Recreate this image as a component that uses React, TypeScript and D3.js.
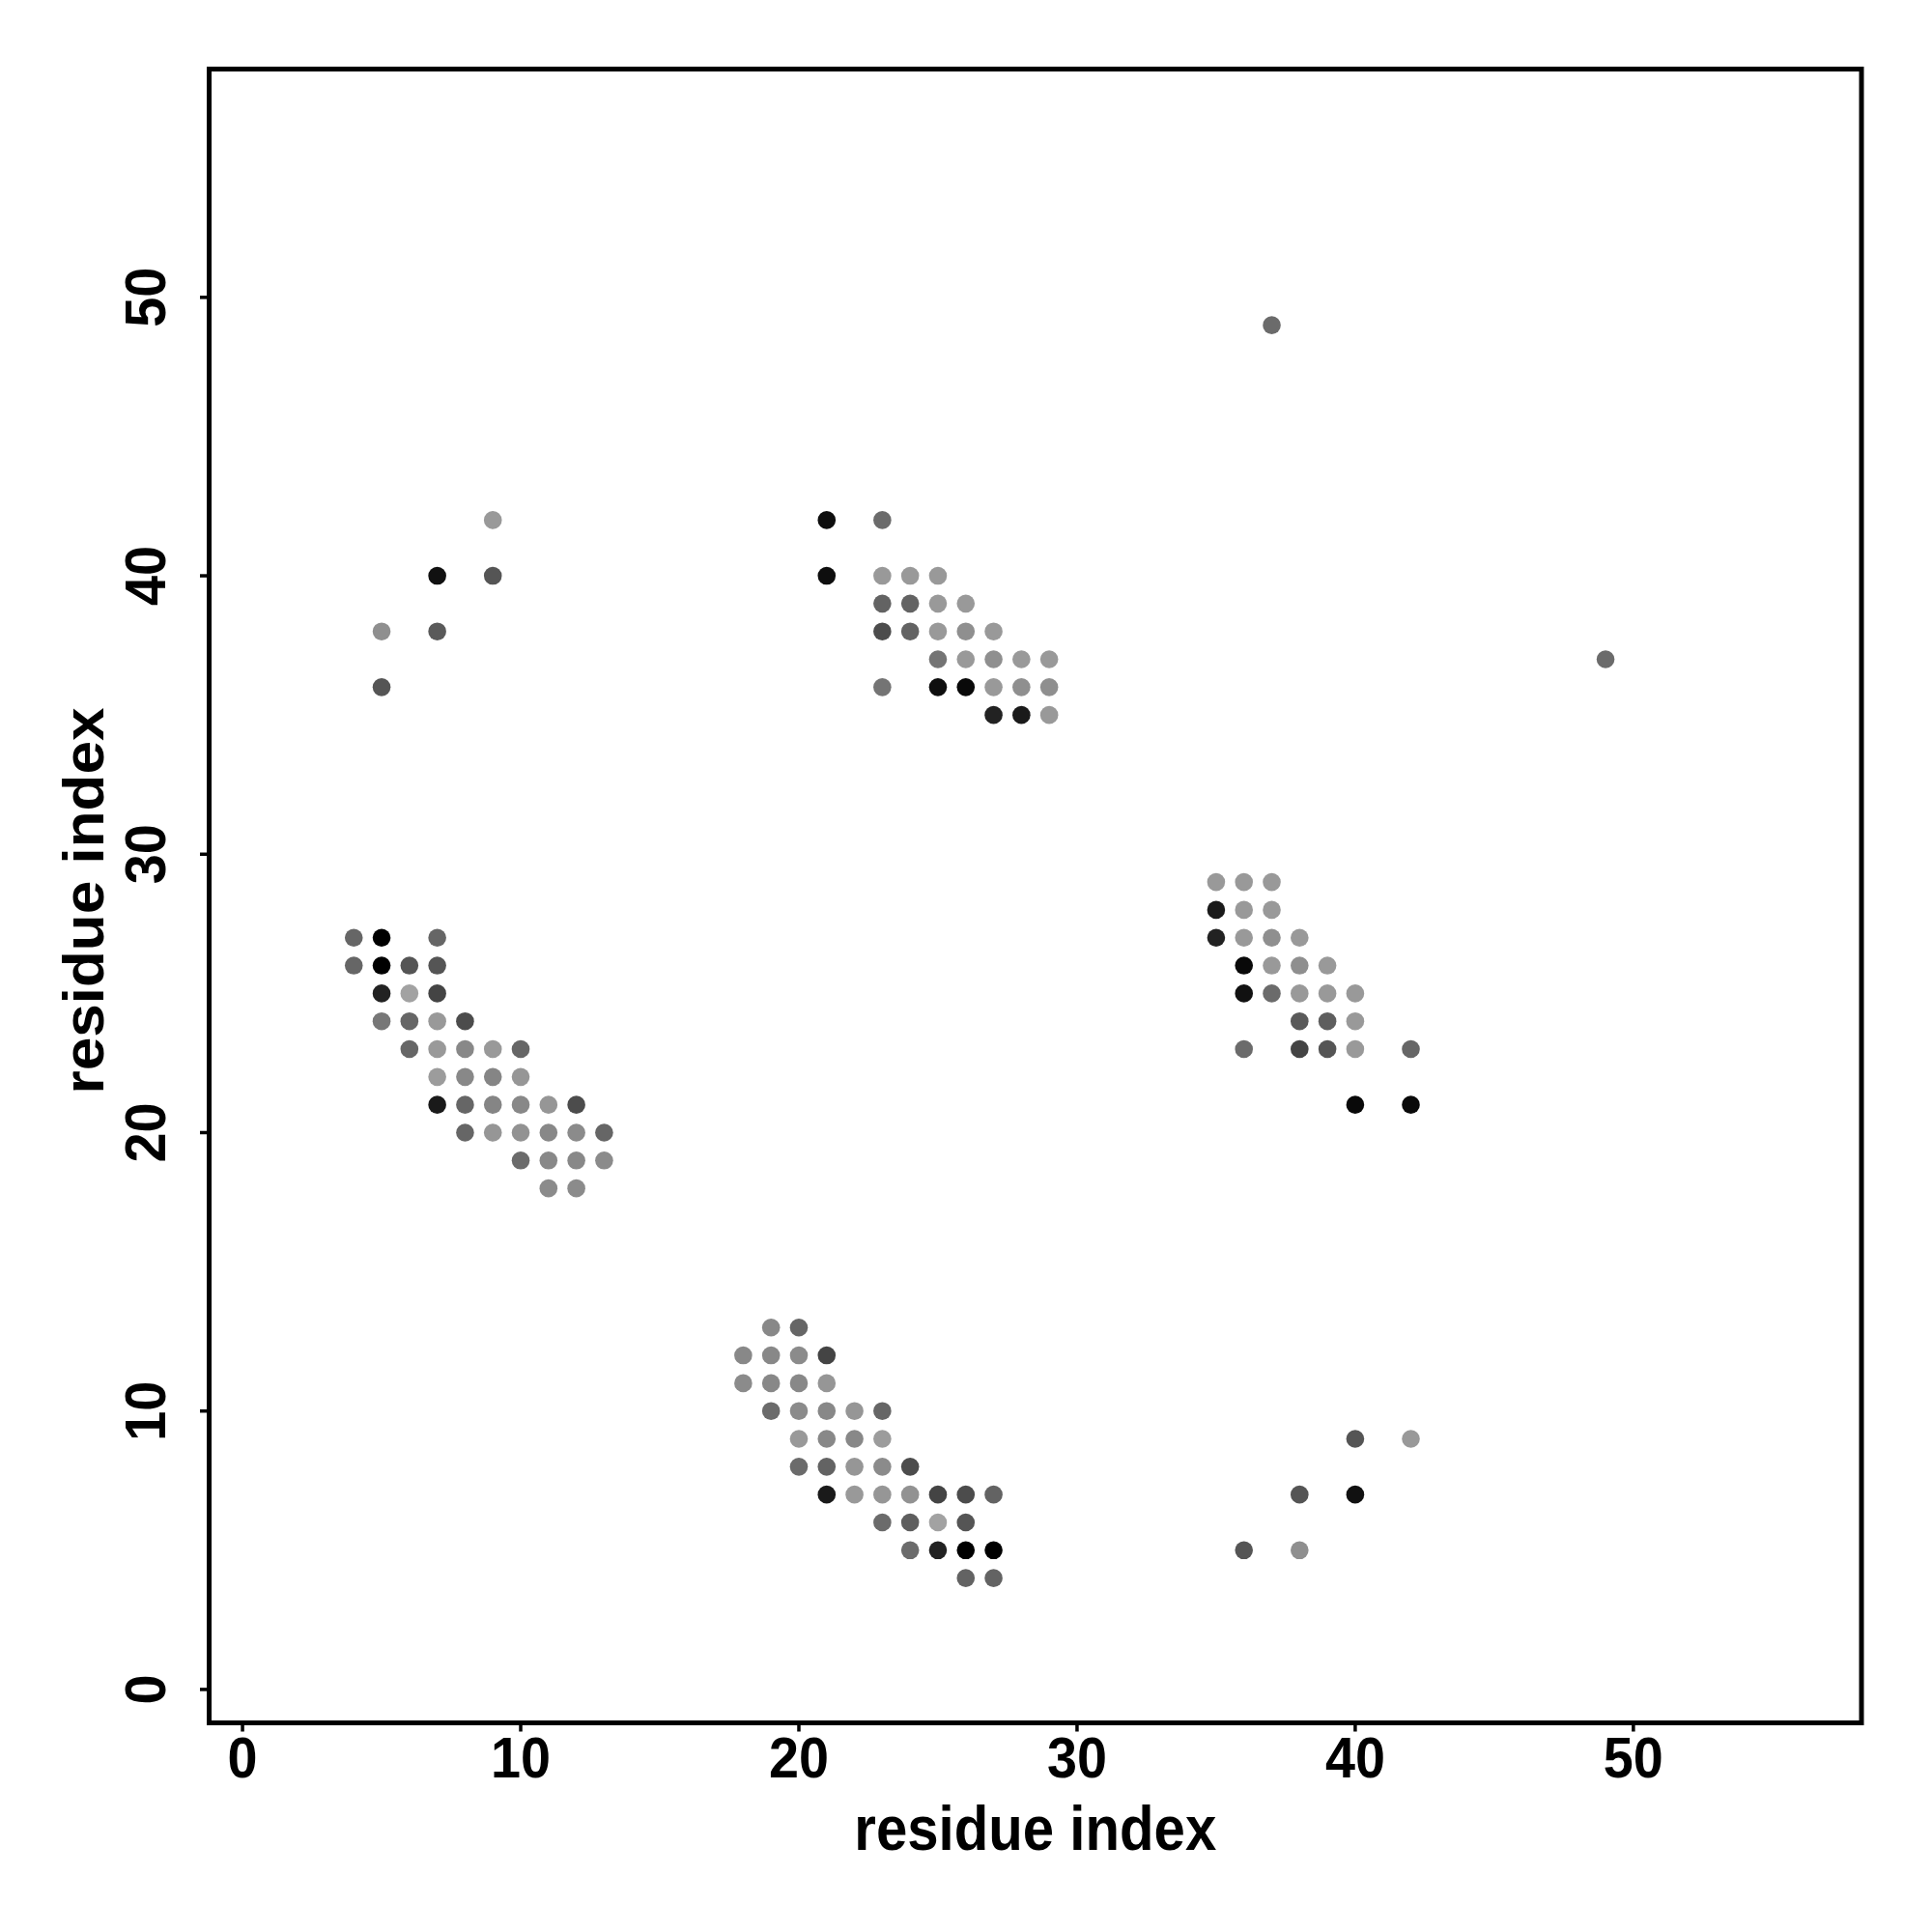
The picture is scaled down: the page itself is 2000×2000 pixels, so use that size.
import React from "react";
import * as d3 from "d3";

// [residue i, residue j, contact strength]
const clusterA: [number, number, number][] = [
  [4, 27, 0.4], [5, 27, 1.0], [7, 27, 0.4],
  [4, 26, 0.4], [5, 26, 1.0], [6, 26, 0.5], [7, 26, 0.5],
  [5, 25, 0.8], [6, 25, 0.05], [7, 25, 0.6],
  [5, 24, 0.3], [6, 24, 0.4], [7, 24, 0.1], [8, 24, 0.55],
  [6, 23, 0.4], [7, 23, 0.1], [8, 23, 0.2], [9, 23, 0.1], [10, 23, 0.4],
  [7, 22, 0.08], [8, 22, 0.2], [9, 22, 0.22], [10, 22, 0.12],
  [7, 21, 0.85], [8, 21, 0.4], [9, 21, 0.22], [10, 21, 0.2], [11, 21, 0.12], [12, 21, 0.55],
  [8, 20, 0.4], [9, 20, 0.12], [10, 20, 0.14], [11, 20, 0.2], [12, 20, 0.18], [13, 20, 0.4],
  [10, 19, 0.37], [11, 19, 0.2], [12, 19, 0.2], [13, 19, 0.18],
  [11, 18, 0.18], [12, 18, 0.18],
];

const clusterB: [number, number, number][] = [
  [19, 13, 0.2], [20, 13, 0.4],
  [18, 12, 0.2], [19, 12, 0.2], [20, 12, 0.18], [21, 12, 0.6],
  [18, 11, 0.18], [19, 11, 0.2], [20, 11, 0.2], [21, 11, 0.12],
  [19, 10, 0.37], [20, 10, 0.18], [21, 10, 0.2], [22, 10, 0.12], [23, 10, 0.4],
  [20, 9, 0.1], [21, 9, 0.2], [22, 9, 0.2], [23, 9, 0.08],
  [20, 8, 0.37], [21, 8, 0.42], [22, 8, 0.12], [23, 8, 0.18], [24, 8, 0.55],
  [21, 7, 0.85], [22, 7, 0.1], [23, 7, 0.12], [24, 7, 0.14], [25, 7, 0.6], [26, 7, 0.55], [27, 7, 0.42],
  [23, 6, 0.37], [24, 6, 0.45], [25, 6, 0.05], [26, 6, 0.5],
  [24, 5, 0.37], [25, 5, 0.8], [26, 5, 1.0], [27, 5, 1.0],
  [26, 4, 0.42], [27, 4, 0.42],
];

const clusterC: [number, number, number][] = [
  [21, 42, 0.92], [23, 42, 0.37],
  [21, 40, 0.92], [23, 40, 0.1], [24, 40, 0.1], [25, 40, 0.1],
  [23, 39, 0.42], [24, 39, 0.42], [25, 39, 0.1], [26, 39, 0.1],
  [23, 38, 0.55], [24, 38, 0.42], [25, 38, 0.1], [26, 38, 0.16], [27, 38, 0.1],
  [25, 37, 0.32], [26, 37, 0.1], [27, 37, 0.16], [28, 37, 0.1], [29, 37, 0.1],
  [23, 36, 0.32], [25, 36, 0.92], [26, 36, 0.95], [27, 36, 0.1], [28, 36, 0.16], [29, 36, 0.16],
  [27, 35, 0.8], [28, 35, 0.85], [29, 35, 0.1],
];

const clusterD: [number, number, number][] = [
  [35, 29, 0.1], [36, 29, 0.1], [37, 29, 0.1],
  [35, 28, 0.85], [36, 28, 0.1], [37, 28, 0.1],
  [35, 27, 0.8], [36, 27, 0.1], [37, 27, 0.16], [38, 27, 0.1],
  [36, 26, 0.95], [37, 26, 0.1], [38, 26, 0.16], [39, 26, 0.1],
  [36, 25, 0.9], [37, 25, 0.37], [38, 25, 0.1], [39, 25, 0.1], [40, 25, 0.1],
  [38, 24, 0.47], [39, 24, 0.45], [40, 24, 0.1],
  [36, 23, 0.37], [38, 23, 0.6], [39, 23, 0.5], [40, 23, 0.1], [42, 23, 0.4],
  [40, 21, 0.95], [42, 21, 0.95],
];

const upperLeft: [number, number, number][] = [
  [9, 42, 0.1], [7, 40, 0.9], [9, 40, 0.5], [5, 38, 0.16], [7, 38, 0.47], [5, 36, 0.5],
];

const lowerRight: [number, number, number][] = [
  [40, 9, 0.5], [42, 9, 0.1], [38, 7, 0.5], [40, 7, 0.9], [36, 5, 0.5], [38, 5, 0.16],
];

const isolated: [number, number, number][] = [
  [49, 37, 0.37], [37, 49, 0.37],
];

const residueRange: [number, number] = [1, 56];
const tickValues = [0, 10, 20, 30, 40, 50];
const axisTitle = "residue index";

const allContacts = [
  ...clusterA, ...clusterB, ...clusterC, ...clusterD, ...upperLeft, ...lowerRight, ...isolated,
];

export default function App() {
  const left = 216.5, right = 1927, top = 71.5, bottom = 1783.5;
  const ext = (residueRange[1] - residueRange[0]) * 0.04;
  const x = d3.scaleLinear().domain([residueRange[0] - ext, residueRange[1] + ext]).range([left, right]);
  const y = d3.scaleLinear().domain([residueRange[0] - ext, residueRange[1] + ext]).range([bottom, top]);
  const color = d3.scaleLinear<string>().domain([0, 1]).range(["#aaaaaa", "#000000"]);
  const font = "'Liberation Sans', Arial, Helvetica, sans-serif";

  return (
    <svg width={2000} height={2000} style={{ position: "absolute", left: 0, top: 0, background: "#fff" }}>
      <rect x={0} y={0} width={2000} height={2000} fill="#fff" />
      {allContacts.map(([i, j, s], k) => (
        <circle key={k} cx={x(i)} cy={y(j)} r={9.3} fill={color(s)} />
      ))}
      {/* x axis ticks */}
      {tickValues.map((t) => (
        <g key={"xt" + t}>
          <line x1={x(t)} x2={x(t)} y1={bottom} y2={bottom + 9} stroke="#000" strokeWidth={3.5} />
          <text
            x={x(t)}
            y={1840}
            textAnchor="middle"
            fontFamily={font}
            fontWeight="bold"
            fontSize={60}
            textLength={String(t).length * 31}
            lengthAdjust="spacingAndGlyphs"
          >
            {t}
          </text>
        </g>
      ))}
      {/* y axis ticks */}
      {tickValues.map((t) => (
        <g key={"yt" + t}>
          <line x1={left} x2={left - 9.5} y1={y(t)} y2={y(t)} stroke="#000" strokeWidth={3.5} />
          <text
            transform={`translate(171,${y(t)}) rotate(-90)`}
            textAnchor="middle"
            fontFamily={font}
            fontWeight="bold"
            fontSize={60}
            textLength={String(t).length * 31}
            lengthAdjust="spacingAndGlyphs"
          >
            {t}
          </text>
        </g>
      ))}
      <rect x={left} y={top} width={right - left} height={bottom - top} fill="none" stroke="#000" strokeWidth={5} />
      <text
        x={(left + right) / 2}
        y={1915}
        textAnchor="middle"
        fontFamily={font}
        fontWeight="bold"
        fontSize={65}
        textLength={375}
        lengthAdjust="spacingAndGlyphs"
      >
        {axisTitle}
      </text>
      <text
        transform={`translate(106.5,${(top + bottom) / 2 + 5}) rotate(-90)`}
        textAnchor="middle"
        fontFamily={font}
        fontWeight="bold"
        fontSize={60}
        textLength={400}
        lengthAdjust="spacingAndGlyphs"
      >
        {axisTitle}
      </text>
    </svg>
  );
}
